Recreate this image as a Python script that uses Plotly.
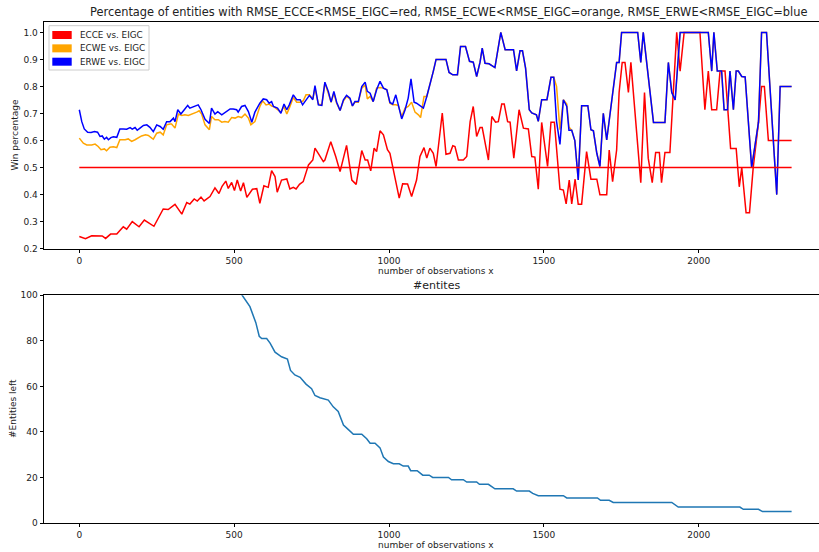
import plotly.graph_objects as go

# ---------------------------------------------------------------- data
ecce_x = [0, 20, 40, 56, 67, 74, 85, 101, 121, 142, 153, 171, 193, 210, 241, 271, 287, 309, 331, 347,
          357, 371, 381, 393, 403, 422, 438, 451, 461, 473, 481, 492, 501, 510, 521, 530, 541, 559, 573, 583,
          596, 610, 621, 632, 639, 653, 670, 680, 691, 700, 711, 723, 740, 754, 761, 777, 788, 793, 812, 828,
          842, 863, 880, 894, 912, 923, 931, 941, 952, 960, 971, 982, 995, 1003, 1019, 1033, 1044, 1060, 1073, 1089,
          1100, 1113, 1122, 1132, 1143, 1152, 1172, 1184, 1197, 1206, 1213, 1224, 1240, 1251, 1262, 1272, 1283, 1294, 1301, 1310,
          1321, 1332, 1344, 1353, 1364, 1372, 1383, 1391, 1403, 1420, 1434, 1450, 1461, 1471, 1482, 1493, 1512, 1523, 1534, 1552,
          1563, 1572, 1582, 1590, 1601, 1611, 1622, 1638, 1652, 1671, 1681, 1703, 1711, 1722, 1735, 1743, 1753, 1762, 1773, 1781,
          1794, 1813, 1825, 1837, 1850, 1861, 1873, 1880, 1891, 1907, 1929, 1940, 1953, 2004, 2020, 2031, 2042, 2058, 2069, 2085,
          2103, 2121, 2131, 2139, 2153, 2164, 2176, 2193, 2203, 2212, 2225, 2300]
ecce_y = [0.245, 0.237, 0.248, 0.247, 0.245, 0.247, 0.238, 0.254, 0.254, 0.281, 0.272, 0.300, 0.281, 0.306, 0.283, 0.347, 0.345, 0.364, 0.328, 0.371,
          0.365, 0.384, 0.376, 0.391, 0.377, 0.393, 0.425, 0.404, 0.431, 0.450, 0.423, 0.445, 0.415, 0.454, 0.413, 0.444, 0.390, 0.420, 0.422, 0.368,
          0.433, 0.427, 0.489, 0.467, 0.409, 0.454, 0.458, 0.421, 0.427, 0.421, 0.438, 0.448, 0.510, 0.528, 0.572, 0.545, 0.522, 0.528, 0.596, 0.541,
          0.485, 0.582, 0.454, 0.438, 0.563, 0.528, 0.528, 0.488, 0.572, 0.559, 0.636, 0.621, 0.566, 0.553, 0.467, 0.387, 0.440, 0.439, 0.393, 0.454,
          0.541, 0.574, 0.535, 0.572, 0.553, 0.504, 0.702, 0.549, 0.553, 0.581, 0.578, 0.528, 0.528, 0.541, 0.670, 0.726, 0.615, 0.648, 0.648, 0.596,
          0.528, 0.689, 0.668, 0.670, 0.735, 0.735, 0.670, 0.668, 0.535, 0.714, 0.646, 0.643, 0.541, 0.539, 0.420, 0.667, 0.504, 0.668, 0.668, 0.420,
          0.417, 0.366, 0.454, 0.366, 0.457, 0.364, 0.364, 0.559, 0.457, 0.457, 0.400, 0.400, 0.565, 0.448, 0.565, 0.778, 0.889, 0.889, 0.778, 0.889,
          0.720, 0.444, 0.778, 0.535, 0.444, 0.556, 0.556, 0.444, 0.556, 0.556, 1.000, 0.857, 1.000, 1.000, 0.714, 0.857, 0.714, 0.714, 0.857, 0.857,
          0.571, 0.571, 0.429, 0.500, 0.333, 0.333, 0.500, 0.667, 0.800, 0.800, 0.600, 0.600]

ecwe_x = [0, 13, 24, 40, 51, 61, 70, 81, 88, 99, 110, 121, 131, 148, 158, 169, 180, 190, 201, 214,
          223, 234, 239, 250, 261, 271, 282, 293, 298, 309, 320, 331, 341, 352, 357, 368, 379, 387, 395, 406,
          420, 427, 438, 449, 460, 470, 481, 492, 503, 513, 524, 535, 546, 554, 567, 583, 592, 603, 613, 621,
          627, 640, 651, 661, 670, 678, 691, 702, 713, 723, 732, 743, 754, 761, 772, 783, 793, 804, 813, 822,
          831, 842, 853, 863, 874, 882, 890, 901, 912, 923, 930, 939, 949, 960, 971, 982, 993, 1003, 1012, 1022,
          1030, 1041, 1052, 1062, 1073, 1084, 1095, 1102, 1113, 1122, 1132, 1143, 1152, 1184, 1194, 1206, 1221, 1231, 1247, 1260,
          1272, 1283, 1294, 1301, 1310, 1323, 1342, 1361, 1375, 1402, 1412, 1423, 1431, 1441, 1453, 1461, 1476, 1482, 1493, 1510,
          1523, 1532, 1541, 1552, 1563, 1574, 1581, 1590, 1600, 1611, 1622, 1642, 1652, 1660, 1671, 1681, 1692, 1703, 1714, 1724,
          1735, 1743, 1751, 1803, 1813, 1821, 1854, 1891, 1902, 1913, 1924, 1940, 2031, 2042, 2049, 2060, 2074, 2082, 2093, 2101,
          2112, 2121, 2128, 2139, 2150, 2171, 2193, 2203, 2219, 2252, 2263, 2300]
ecwe_y = [0.609, 0.590, 0.584, 0.584, 0.587, 0.578, 0.566, 0.569, 0.562, 0.575, 0.577, 0.574, 0.603, 0.603, 0.606, 0.597, 0.603, 0.609, 0.617, 0.621,
          0.619, 0.609, 0.605, 0.627, 0.631, 0.621, 0.658, 0.661, 0.661, 0.646, 0.698, 0.693, 0.695, 0.693, 0.695, 0.698, 0.705, 0.710, 0.698, 0.658,
          0.640, 0.689, 0.677, 0.677, 0.668, 0.670, 0.668, 0.685, 0.683, 0.689, 0.685, 0.698, 0.683, 0.658, 0.670, 0.726, 0.747, 0.732, 0.735, 0.728,
          0.726, 0.714, 0.705, 0.726, 0.698, 0.720, 0.759, 0.742, 0.742, 0.747, 0.769, 0.769, 0.754, 0.794, 0.735, 0.732, 0.813, 0.775, 0.742, 0.775,
          0.738, 0.711, 0.747, 0.763, 0.754, 0.728, 0.742, 0.742, 0.794, 0.806, 0.754, 0.763, 0.744, 0.794, 0.796, 0.794, 0.788, 0.738, 0.732, 0.732,
          0.730, 0.689, 0.720, 0.726, 0.742, 0.705, 0.695, 0.685, 0.763, 0.763, 0.804, 0.856, 0.900, 0.900, 0.852, 0.843, 0.843, 0.948, 0.948, 0.893,
          0.890, 0.837, 0.890, 0.942, 0.886, 0.884, 0.870, 1.000, 0.936, 0.936, 0.858, 0.932, 0.932, 0.868, 0.714, 0.702, 0.695, 0.671, 0.751, 0.751,
          0.834, 0.834, 0.800, 0.640, 0.751, 0.735, 0.650, 0.638, 0.600, 0.454, 0.729, 0.729, 0.640, 0.636, 0.553, 0.504, 0.701, 0.602, 0.701, 0.787,
          0.889, 0.889, 1.000, 1.000, 0.889, 1.000, 0.667, 0.667, 0.889, 0.778, 0.750, 1.000, 1.000, 0.857, 1.000, 0.857, 0.857, 0.714, 0.714, 0.857,
          0.714, 0.857, 0.857, 0.837, 0.835, 0.500, 0.667, 1.000, 1.000, 0.400, 0.800, 0.800]

erwe_x = [0, 8, 16, 27, 38, 49, 59, 67, 74, 81, 88, 94, 102, 110, 121, 131, 142, 153, 164, 171,
          180, 187, 196, 207, 218, 228, 239, 250, 261, 271, 282, 293, 304, 309, 318, 328, 339, 350, 357, 368,
          384, 393, 406, 420, 427, 438, 447, 460, 473, 487, 497, 508, 513, 524, 535, 546, 557, 567, 583, 594,
          605, 613, 621, 627, 640, 651, 661, 670, 678, 691, 702, 713, 721, 732, 743, 754, 761, 772, 783, 793,
          804, 813, 822, 831, 842, 853, 863, 874, 882, 890, 901, 912, 923, 930, 939, 949, 960, 971, 982, 993,
          1003, 1012, 1022, 1030, 1041, 1052, 1062, 1071, 1081, 1089, 1100, 1111, 1122, 1132, 1143, 1152, 1184, 1194, 1206, 1221,
          1231, 1247, 1260, 1272, 1283, 1294, 1301, 1310, 1323, 1342, 1361, 1375, 1402, 1412, 1423, 1431, 1441, 1453, 1461, 1476,
          1482, 1493, 1510, 1523, 1532, 1541, 1552, 1563, 1574, 1581, 1590, 1600, 1611, 1622, 1642, 1652, 1660, 1671, 1681, 1692,
          1703, 1714, 1724, 1735, 1743, 1751, 1803, 1813, 1821, 1854, 1891, 1902, 1913, 1924, 1940, 2031, 2042, 2049, 2060, 2074,
          2082, 2093, 2101, 2112, 2121, 2128, 2139, 2150, 2171, 2193, 2203, 2219, 2252, 2263, 2300]
erwe_y = [0.714, 0.670, 0.643, 0.631, 0.630, 0.633, 0.631, 0.615, 0.617, 0.605, 0.612, 0.603, 0.611, 0.614, 0.612, 0.643, 0.643, 0.642, 0.648, 0.642,
          0.648, 0.638, 0.646, 0.656, 0.658, 0.649, 0.633, 0.658, 0.652, 0.642, 0.670, 0.670, 0.683, 0.670, 0.714, 0.698, 0.714, 0.730, 0.720, 0.726,
          0.732, 0.714, 0.679, 0.663, 0.720, 0.698, 0.707, 0.695, 0.705, 0.717, 0.717, 0.714, 0.705, 0.726, 0.730, 0.707, 0.668, 0.705, 0.738, 0.754,
          0.751, 0.738, 0.744, 0.726, 0.720, 0.701, 0.735, 0.714, 0.732, 0.769, 0.751, 0.751, 0.732, 0.751, 0.767, 0.751, 0.803, 0.732, 0.730, 0.816,
          0.782, 0.742, 0.782, 0.742, 0.711, 0.751, 0.767, 0.757, 0.728, 0.744, 0.744, 0.800, 0.816, 0.782, 0.775, 0.744, 0.788, 0.819, 0.794, 0.788,
          0.741, 0.735, 0.769, 0.732, 0.680, 0.714, 0.757, 0.828, 0.742, 0.738, 0.728, 0.720, 0.763, 0.804, 0.856, 0.900, 0.900, 0.852, 0.843, 0.843,
          0.948, 0.948, 0.893, 0.890, 0.837, 0.890, 0.942, 0.886, 0.884, 0.870, 1.000, 0.936, 0.936, 0.858, 0.932, 0.932, 0.868, 0.714, 0.702, 0.695,
          0.671, 0.751, 0.751, 0.834, 0.834, 0.671, 0.586, 0.751, 0.726, 0.638, 0.638, 0.600, 0.454, 0.729, 0.729, 0.640, 0.636, 0.553, 0.504, 0.701,
          0.602, 0.701, 0.787, 0.889, 0.889, 1.000, 1.000, 0.889, 1.000, 0.667, 0.667, 0.889, 0.778, 0.750, 1.000, 1.000, 0.857, 1.000, 0.857, 0.857,
          0.714, 0.714, 0.857, 0.714, 0.857, 0.857, 0.837, 0.835, 0.500, 0.667, 1.000, 1.000, 0.400, 0.800, 0.800]

baseline_x = [0, 2300]
baseline_y = [0.5, 0.5]

entities_x = [500, 526, 551, 562, 570, 581, 589, 605, 616, 632, 653, 672, 682, 696, 713, 732, 750, 761, 777, 804,
              820, 836, 853, 869, 885, 912, 928, 939, 955, 971, 982, 998, 1014, 1033, 1046, 1062, 1070, 1091, 1109, 1130,
              1141, 1192, 1202, 1240, 1251, 1283, 1292, 1321, 1342, 1401, 1412, 1453, 1464, 1482, 1563, 1574, 1673, 1683, 1711, 1724,
              1913, 1934, 2133, 2144, 2193, 2206, 2300]
entities_y = [106, 100, 95, 91, 88, 82, 81, 81, 79, 75, 73, 72, 67, 65, 64, 61, 59, 56, 55, 54,
              51, 49, 43, 41, 39, 39, 37, 35, 35, 33, 29, 27, 26, 26, 25, 25, 23, 23, 21, 21,
              20, 20, 19, 19, 18, 18, 17, 17, 15, 15, 14, 14, 13, 12, 12, 11, 11, 10, 10, 9,
              9, 7, 7, 6, 6, 5, 5]

legend_labels = ["ECCE vs. EIGC", "ECWE vs. EIGC", "ERWE vs. EIGC"]
series_colors = ["#ff0000", "#ffa500", "#0000ff"]

x_ticks = [0, 500, 1000, 1500, 2000]
win_ticks = [0.2, 0.3, 0.4, 0.5, 0.6, 0.7, 0.8, 0.9, 1.0]
count_ticks = [0, 20, 40, 60, 80, 100]

assert len(ecce_x) == len(ecce_y)
assert len(ecwe_x) == len(ecwe_y)
assert len(erwe_x) == len(erwe_y)
assert len(entities_x) == len(entities_y)

# ---------------------------------------------------------------- layout geometry
W, H = 819, 552
ML, MR, MT, MB = 44, 0, 22, 29
PW, PH = W - ML - MR, H - MT - MB
FONT = "DejaVu Sans"
INK = "#222222"
SMALL = 9


def fx(px):
    return (px - ML) / PW


def fy(py):
    return (H - MB - py) / PH


fig = go.Figure()

# upper panel: win percentages
for xs, ys, col in [(ecce_x, ecce_y, series_colors[0]),
                    (ecwe_x, ecwe_y, series_colors[1]),
                    (erwe_x, erwe_y, series_colors[2])]:
    fig.add_trace(go.Scatter(x=xs, y=ys, mode="lines", line=dict(color=col, width=1.5),
                             showlegend=False, xaxis="x", yaxis="y", hoverinfo="x+y"))
fig.add_trace(go.Scatter(x=baseline_x, y=baseline_y, mode="lines",
                         line=dict(color="#ff0000", width=1.5), showlegend=False,
                         xaxis="x", yaxis="y"))

# lower panel: number of entities remaining
fig.add_trace(go.Scatter(x=entities_x, y=entities_y, mode="lines",
                         line=dict(color="#1f77b4", width=1.5), showlegend=False,
                         xaxis="x2", yaxis="y2"))

axis_common = dict(showgrid=False, zeroline=False, showline=True, linecolor="black", linewidth=0.8,
                   ticks="outside", ticklen=3.5, tickwidth=0.8, tickcolor="black",
                   tickfont=dict(family=FONT, size=SMALL, color=INK))
x_range = [(ML - 79.3) / 0.3097, (W - 79.3) / 0.3097]

fig.update_layout(
    width=W, height=H,
    margin=dict(l=ML, r=MR, t=MT, b=MB),
    paper_bgcolor="white", plot_bgcolor="white",
    font=dict(family=FONT, size=SMALL, color=INK),
    xaxis=dict(axis_common, domain=[0, 1], anchor="y", range=x_range, mirror=True,
               tickvals=x_ticks, ticktext=[str(v) for v in x_ticks]),
    yaxis=dict(axis_common, domain=[fy(248.7), 1], anchor="x", range=[0.2, 1.0385],
               tickvals=win_ticks, ticktext=[f"{v:.1f}" for v in win_ticks]),
    xaxis2=dict(axis_common, domain=[0, 1], anchor="y2", range=x_range, mirror=True,
                tickvals=x_ticks, ticktext=[str(v) for v in x_ticks]),
    yaxis2=dict(axis_common, domain=[0, fy(295.3)], anchor="x2", range=[0, 100],
                tickvals=count_ticks, ticktext=[str(v) for v in count_ticks]),
)

annotations = []


def label(text, px, py, size=SMALL, angle=0, xanchor="center"):
    annotations.append(dict(text=text, x=fx(px), y=fy(py), xref="paper", yref="paper",
                            showarrow=False, xanchor=xanchor, yanchor="middle", textangle=angle,
                            font=dict(family=FONT, size=size, color=INK)))


label("Percentage of entities with RMSE_ECCE&lt;RMSE_EIGC=red, RMSE_ECWE&lt;RMSE_EIGC=orange, "
      "RMSE_ERWE&lt;RMSE_EIGC=blue", 449, 12, size=11.4)
label("#entites", 436, 286, size=11)
label("number of observations x", 436, 271)
label("number of observations x", 436, 545)
label("Win percentage", 14, 135.5, angle=-90)
label("#Entities left", 13, 409, angle=-90)

# legend box with colour patches
shapes = [dict(type="rect", xref="paper", yref="paper", x0=fx(49), x1=fx(149), y0=fy(70), y1=fy(25.7),
               line=dict(color="#cccccc", width=1), fillcolor="rgba(255,255,255,0.8)", layer="above")]
for i, (name, col) in enumerate(zip(legend_labels, series_colors)):
    top = 31 + i * 13.35
    shapes.append(dict(type="rect", xref="paper", yref="paper", x0=fx(52.3), x1=fx(71.7),
                       y0=fy(top + 8), y1=fy(top), line=dict(width=0), fillcolor=col, layer="above"))
    label(name, 78.3, top + 4, size=8.8, xanchor="left")

fig.update_layout(annotations=annotations, shapes=shapes)

fig.write_html("out.html")
